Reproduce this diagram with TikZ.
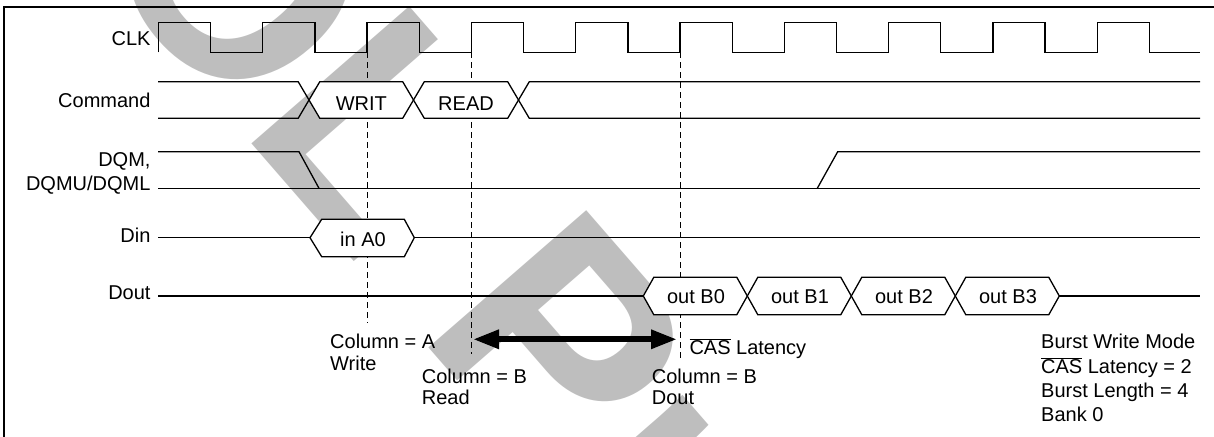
\documentclass[tikz,border=0pt]{standalone}
\usepackage{fontspec}
\setmainfont{Liberation Sans}
\usetikzlibrary{arrows.meta}
\definecolor{wmgray}{RGB}{190,190,190}
\newcommand\olCAS{$\overline{\mbox{CAS}}$}
\begin{document}
\begin{tikzpicture}[x=1bp,y=-1bp,
  sig/.style={line width=1.3bp},
  dsh/.style={line width=1bp, dash pattern=on 6bp off 4bp},
  hexa/.style={line width=1.3bp, fill=white},
  lab/.style={font=\fontsize{20bp}{24bp}\selectfont, inner sep=0pt, anchor=base east},
  txt/.style={font=\fontsize{20bp}{24bp}\selectfont, inner sep=0pt, anchor=base west},
  ctx/.style={font=\fontsize{20bp}{24bp}\selectfont, inner sep=0pt, anchor=base},
  wm/.style={font=\fontsize{304bp}{304bp}\selectfont\bfseries, text=wmgray, inner sep=0pt, anchor=base west, rotate=-49}]
\useasboundingbox (0,0) rectangle (1214,437);
% watermark
\begin{scope}
\clip (0,0) rectangle (1214,437);
\node[wm] (wm) at (-49.6,-203.4) {EOL Product};
\end{scope}
% frame
\draw[line width=1.2bp] (4,437) -- (4,7) -- (1214,7);
% labels
\node[lab] (lclk) at (150.7,46) {CLK};
\node[lab] (lcmd) at (150.7,108) {Command};
\node[lab] (ldqm) at (150.7,166.7) {DQM,};
\node[lab] (ldqmu) at (150.7,191) {DQMU/DQML};
\node[lab] (ldin) at (150.7,242.3) {Din};
\node[lab] (ldout) at (150.7,300) {Dout};
% CLK
\draw[sig] (158.5,52.3) \foreach \k in {0,...,9}{ -- ({158.5+104.3*\k},52.3) -- ({158.5+104.3*\k},22.3) -- ({210.7+104.3*\k},22.3) -- ({210.7+104.3*\k},52.3)} -- (1200,52.3);
% dashed reference lines
\draw[dsh] (367.1,52.3) -- (367.1,323);
\draw[dsh] (471.4,52.3) -- (471.4,354);
\draw[dsh] (680,52.3) -- (680,362);
% Command
\draw[sig] (158,81.7) -- (298.2,81.7) -- (309,100);
\draw[sig] (158,118.3) -- (298.2,118.3) -- (309,100);
\draw[hexa] (309,100) -- (319.8,81.7) -- (402.7,81.7) -- (413.5,100) -- (402.7,118.3) -- (319.8,118.3) -- cycle;
\draw[hexa] (413.5,100) -- (424.3,81.7) -- (507.7,81.7) -- (518.5,100) -- (507.7,118.3) -- (424.3,118.3) -- cycle;
\draw[sig] (518.5,100) -- (529.3,81.7) -- (1200,81.7);
\draw[sig] (518.5,100) -- (529.3,118.3) -- (1200,118.3);
\node[ctx] (writ) at (361.3,110.5) {WRIT};
\node[ctx] (read) at (466,110.5) {READ};
% DQM
\draw[sig] (158,151.7) -- (299,151.7) -- (319,188.3);
\draw[sig] (158,188.3) -- (1200,188.3);
\draw[sig] (817.3,188.3) -- (837.7,151.7) -- (1200,151.7);
% Din
\draw[sig] (158,237.7) -- (310,237.7);
\draw[sig] (414.3,237.7) -- (1200,237.7);
\draw[hexa] (310,237.7) -- (321.7,219.3) -- (404.3,219.3) -- (414.3,237.7) -- (404.3,256.7) -- (321.7,256.7) -- cycle;
\node[ctx] (ina0) at (363,246.7) {in A0};
% Dout
\draw[sig] (158,296) -- (643.3,296);
\draw[sig] (1059.3,296) -- (1200,296);
\foreach \k/\t in {0/out B0,1/out B1,2/out B2,3/out B3}{
  \draw[hexa] ({643.3+104*\k},296) -- ({653.8+104*\k},277.3) -- ({736.8+104*\k},277.3) -- ({747.3+104*\k},296) -- ({736.8+104*\k},314.7) -- ({653.8+104*\k},314.7) -- cycle;
  \node[ctx] (ob\k) at ({696+104*\k},303.5) {\t};
}
% CAS latency arrow
\coordinate (aL) at (473,339.3);
\coordinate (aR) at (677,339.3);
\draw[line width=6bp, {Triangle[length=26bp,width=18bp]}-{Triangle[length=26bp,width=18bp]}] (aL) -- (aR);
% annotations
\node[txt] (ca1) at (330,348.3) {Column = A};
\node[txt] (ca2) at (330,370.7) {Write};
\node[txt] (cb1) at (421.7,383.3) {Column = B};
\node[txt] (cb2) at (421.7,405) {Read};
\node[txt] (cas) at (689.3,355) {\olCAS{} Latency};
\node[txt] (cd1) at (651.7,383.3) {Column = B};
\node[txt] (cd2) at (651.7,405) {Dout};
\node[txt] (m1) at (1041,348.3) {Burst Write Mode};
\node[txt] (m2) at (1041,373.3) {\olCAS{} Latency = 2};
\node[txt] (m3) at (1041,397.7) {Burst Length = 4};
\node[txt] (m4) at (1041,421.7) {Bank 0};
\end{tikzpicture}
\end{document}
